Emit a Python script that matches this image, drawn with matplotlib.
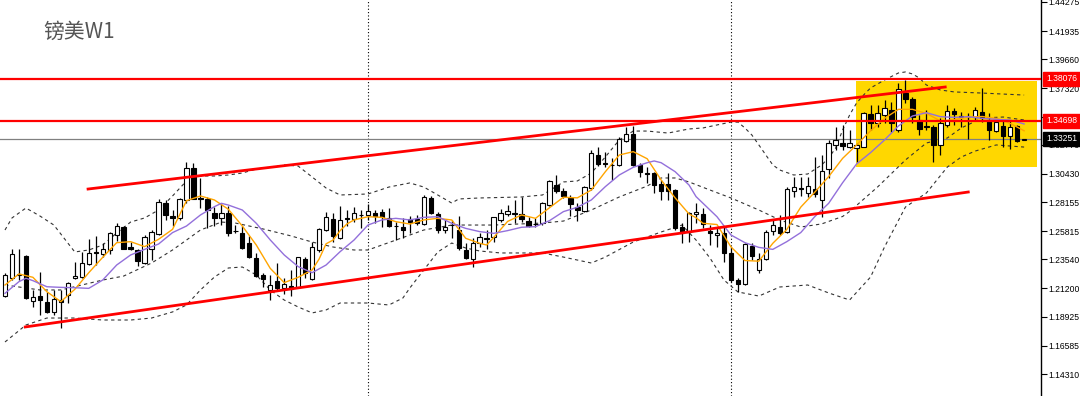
import numpy as np
import matplotlib.pyplot as plt
import matplotlib.transforms as mtransforms
from matplotlib.patches import Rectangle

# weekly GBPUSD candles
opens = [1.2062,1.2202,1.2229,1.2381,1.2019,1.2060,1.2014,1.1933,1.2027,1.2068,
1.2202,1.2215,1.2317,1.2416,1.2398,1.2430,1.2548,1.2618,1.2451,1.2430,
1.2322,1.2441,1.2559,1.2811,1.2706,1.2685,1.2833,1.3088,1.2846,1.2838,
1.2731,1.2685,1.2725,1.2586,1.2570,1.2484,1.2363,1.2229,1.2108,1.2183,
1.2124,1.2140,1.2134,1.2355,1.2194,1.2430,1.2591,1.2677,1.2524,1.2690,
1.2677,1.2714,1.2709,1.2725,1.2739,1.2685,1.2625,1.2618,1.2677,1.2677,
1.2639,1.2846,1.2717,1.2591,1.2633,1.2591,1.2430,1.2355,1.2484,1.2526,
1.2532,1.2672,1.2720,1.2727,1.2720,1.2666,1.2641,1.2645,1.2792,1.2953,
1.2908,1.2846,1.2779,1.2744,1.2927,1.3195,1.3130,1.3117,1.3115,1.3311,
1.3364,1.3115,1.3049,1.3047,1.2961,1.2961,1.2913,1.2613,1.2578,1.2720,
1.2720,1.2586,1.2551,1.2564,1.2403,1.2188,1.2156,1.2462,1.2269,1.2355,
1.2586,1.2618,1.2578,1.2908,1.2929,1.2886,1.2919,1.2833,1.3080,1.3276,
1.3294,1.3257,1.3249,1.3262,1.3523,1.3456,1.3517,1.3558,1.3397,1.3697,
1.3644,1.3477,1.3426,1.3418,1.3276,1.3437,1.3547,1.3506,1.3504,1.3498,
1.3544,1.3477,1.3391,1.3429,1.3348,1.3429,1.3318]
highs = [1.2242,1.2435,1.2441,1.2389,1.2108,1.2255,1.2094,1.2108,1.2108,1.2175,
1.2336,1.2416,1.2516,1.2543,1.2489,1.2578,1.2645,1.2623,1.2497,1.2435,
1.2551,1.2591,1.2838,1.2833,1.2752,1.2851,1.3141,1.3128,1.3007,1.2860,
1.2774,1.2806,1.2784,1.2631,1.2623,1.2543,1.2403,1.2242,1.2229,1.2322,
1.2202,1.2269,1.2376,1.2371,1.2497,1.2604,1.2736,1.2725,1.2784,1.2752,
1.2779,1.2752,1.2798,1.2752,1.2762,1.2765,1.2658,1.2685,1.2704,1.2712,
1.2873,1.2865,1.2739,1.2672,1.2672,1.2704,1.2484,1.2524,1.2564,1.2591,
1.2698,1.2758,1.2792,1.2833,1.2854,1.2698,1.2685,1.2819,1.2994,1.3034,
1.2927,1.2873,1.2806,1.2946,1.3235,1.3257,1.3222,1.3168,1.3337,1.3418,
1.3429,1.3128,1.3101,1.3061,1.2994,1.3047,1.2919,1.2645,1.2739,1.2806,
1.2766,1.2631,1.2604,1.2618,1.2457,1.2202,1.2489,1.2489,1.2403,1.2591,
1.2672,1.2712,1.2940,1.3021,1.3015,1.3021,1.3182,1.3195,1.3316,1.3424,
1.3437,1.3397,1.3294,1.3544,1.3598,1.3598,1.3638,1.3625,1.3778,1.3799,
1.3660,1.3517,1.3558,1.3437,1.3490,1.3598,1.3571,1.3544,1.3531,1.3584,
1.3732,1.3531,1.3490,1.3477,1.3477,1.3437,1.3328]
lows = [1.2054,1.2188,1.2188,1.2033,1.1974,1.1906,1.1920,1.1906,1.1800,1.2000,
1.2194,1.2202,1.2309,1.2309,1.2376,1.2398,1.2505,1.2435,1.2430,1.2301,
1.2317,1.2349,1.2551,1.2672,1.2623,1.2672,1.2806,1.2838,1.2766,1.2604,
1.2623,1.2631,1.2543,1.2564,1.2441,1.2363,1.2215,1.2129,1.2027,1.2108,
1.2075,1.2060,1.2121,1.2202,1.2188,1.2416,1.2586,1.2497,1.2516,1.2625,
1.2658,1.2604,1.2672,1.2645,1.2618,1.2613,1.2510,1.2524,1.2564,1.2631,
1.2631,1.2720,1.2570,1.2564,1.2524,1.2430,1.2355,1.2290,1.2457,1.2435,
1.2497,1.2658,1.2704,1.2645,1.2658,1.2613,1.2618,1.2631,1.2784,1.2886,
1.2846,1.2704,1.2666,1.2739,1.2913,1.3107,1.3101,1.2994,1.3107,1.3303,
1.3107,1.3021,1.2967,1.2886,1.2833,1.2833,1.2591,1.2484,1.2497,1.2645,
1.2604,1.2470,1.2457,1.2336,1.2175,1.2094,1.2148,1.2349,1.2242,1.2349,
1.2551,1.2551,1.2564,1.2860,1.2865,1.2860,1.2860,1.2698,1.3007,1.3236,
1.3236,1.3249,1.3141,1.3257,1.3397,1.3424,1.3450,1.3383,1.3383,1.3611,
1.3450,1.3356,1.3397,1.3141,1.3195,1.3424,1.3437,1.3424,1.3324,1.3477,
1.3464,1.3316,1.3383,1.3257,1.3241,1.3303,1.3315]
closes = [1.2229,1.2395,1.2237,1.2041,1.2051,1.2027,1.1928,1.2035,1.2011,1.2167,
1.2221,1.2322,1.2408,1.2403,1.2438,1.2564,1.2623,1.2438,1.2438,1.2344,
1.2532,1.2578,1.2814,1.2709,1.2685,1.2838,1.3088,1.2841,1.2841,1.2752,
1.2685,1.2731,1.2570,1.2580,1.2449,1.2376,1.2221,1.2194,1.2148,1.2126,
1.2153,1.2118,1.2371,1.2242,1.2457,1.2596,1.2698,1.2543,1.2672,1.2680,
1.2731,1.2710,1.2747,1.2704,1.2693,1.2623,1.2621,1.2591,1.2653,1.2645,
1.2854,1.2725,1.2591,1.2618,1.2629,1.2443,1.2363,1.2484,1.2537,1.2522,
1.2693,1.2731,1.2744,1.2723,1.2677,1.2623,1.2637,1.2811,1.2986,1.2905,
1.2865,1.2800,1.2752,1.2940,1.3214,1.3123,1.3126,1.3113,1.3321,1.3364,
1.3115,1.3061,1.3045,1.2953,1.2908,1.2908,1.2604,1.2564,1.2725,1.2739,
1.2639,1.2564,1.2570,1.2408,1.2188,1.2156,1.2478,1.2382,1.2355,1.2578,
1.2629,1.2564,1.2919,1.2935,1.2925,1.2945,1.2881,1.3069,1.3294,1.3316,
1.3268,1.3294,1.3276,1.3536,1.3456,1.3531,1.3571,1.3450,1.3724,1.3644,
1.3498,1.3402,1.3422,1.3276,1.3456,1.3552,1.3525,1.3502,1.3500,1.3558,
1.3490,1.3397,1.3464,1.3348,1.3424,1.3310,1.3325]

# fast MA (orange), read at bar positions
fast_idx = [0,2,4,6,8,10,12,14,16,18,20,22,24,26,28,30,32,34,36,38,40,42,44,45,46,47,48,49,
            50,52,54,56,58,60,62,64,66,68,69,70,72,74,76,78,80,82,84,86,88,90,92,94,96,98,99,
            100,102,104,106,108,110,112,114,116,118,120,122,124,126,128,130,132,134,136,138,140,142,144,146]
fast_val = [1.2148,1.2237,1.2210,1.2094,1.2014,1.2113,1.2247,1.2371,1.2489,1.2497,1.2457,1.2516,1.2596,1.2827,1.2865,
            1.2833,1.2758,1.2623,1.2470,1.2282,1.2167,1.2210,1.2269,
            1.2357,1.2480,1.2510,1.2585,1.2640,
            1.2672,1.2698,1.2693,1.2658,1.2639,1.2672,1.2685,1.2672,1.2524,
            1.2484,1.2470,1.2530,
            1.2660,1.2712,1.2685,1.2770,1.2855,1.2850,1.2913,1.3060,1.3195,1.3222,1.3165,1.2994,1.2850,1.2720,
            1.2690,
            1.2645,1.2635,1.2455,1.2345,1.2340,1.2484,1.2595,1.2775,1.2895,1.3021,1.3168,1.3276,1.3390,1.3490,
            1.3563,1.3563,1.3530,1.3470,1.3480,1.3500,1.3505,1.3490,1.3450,1.3390]

# slow MA (purple)
slow_idx = [0,2,3,4,6,8,10,12,14,16,18,20,22,24,26,28,30,31,
            32,34,36,38,40,42,44,46,48,50,52,54,56,58,60,62,64,66,68,70,72,74,76,78,80,82,84,86,88,90,92,
            93,94,96,98,99,100,102,104,106,108,110,112,114,116,118,120,122,124,126,128,130,132,134,136,138,140,142,144,146]
slow_val = [1.2081,1.2175,1.2202,1.2183,1.2134,1.2129,1.2126,1.2121,1.2188,1.2309,1.2390,1.2435,1.2478,1.2570,1.2623,1.2712,1.2779,1.2806,
            1.2792,1.2752,1.2645,1.2511,1.2390,1.2296,1.2247,1.2309,1.2416,1.2510,1.2631,1.2672,1.2685,1.2672,1.2693,1.2698,
            1.2645,1.2604,1.2578,1.2564,1.2586,1.2613,1.2618,1.2666,1.2739,1.2774,1.2833,1.2940,1.3034,1.3096,1.3133,
            1.3147,1.3133,1.3061,1.2953,1.2860,1.2806,1.2698,1.2551,1.2489,1.2451,1.2435,1.2497,1.2570,1.2698,1.2806,
            1.2972,1.3123,1.3214,1.3316,1.3429,1.3509,1.3536,1.3504,1.3498,1.3504,1.3490,1.3482,1.3477,1.3445]

# bollinger bands (dashed)
upper_idx = [0,1,3,5,7,9,10,12,14,16,18,20,22,24,26,28,30,32,34,36,38,40,42,44,46,48,52,55,58,60,
             62,64,65,68,74,77,80,82,84,86,88,90,92,95,98,100,102,104,105,106,107,108,109,110,111,113,115,117,118,119,
             120,121,122,123,124,126,128,129,130,131,132,134,136,140,146]
upper_val = [1.2591,1.2688,1.2768,1.2704,1.2631,1.2486,1.2414,1.2430,1.2470,1.2567,1.2655,1.2688,1.2752,1.2865,1.2986,
             1.3026,1.3026,1.3034,1.3050,1.3082,1.3098,1.3115,1.3106,1.3018,1.2929,1.2873,1.2881,1.2937,1.2970,1.2937,
             1.2873,1.2808,1.2841,1.2849,1.2857,1.2873,1.2978,1.2986,1.3050,1.3179,1.3316,1.3388,1.3388,1.3372,1.3405,
             1.3413,1.3437,1.3460,1.3460,1.3413,1.3356,1.3276,1.3195,1.3115,1.3074,1.3034,1.3042,1.3115,1.3171,1.3251,
             1.3396,1.3517,1.3614,1.3678,1.3735,1.3799,1.3856,1.3864,1.3848,1.3815,1.3759,1.3719,1.3703,1.3694,1.3678]
middle_idx = [0,5,8,11,14,17,21,24,26,28,31,33,37,41,44,47,50,52,56,60,64,70,77,80,84,88,92,94,96,98,
              101,104,108,111,114,117,120,121,125,129,132,135,137,140,143,146]
middle_val = [1.2148,1.2108,1.2108,1.2148,1.2188,1.2220,1.2325,1.2430,1.2510,1.2591,
              1.2655,1.2647,1.2599,1.2543,1.2494,1.2454,1.2430,1.2430,1.2510,1.2591,
              1.2631,1.2631,1.2647,1.2663,1.2752,1.2857,1.2945,1.3010,1.3010,1.2978,
              1.2913,1.2849,1.2752,1.2672,1.2615,1.2640,1.2700,1.2740,1.2937,1.3155,
              1.3292,1.3332,1.3413,1.3493,1.3501,1.3477]
lower_idx = [0,3,6,10,14,18,21,24,26,28,30,32,34,36,38,40,42,44,46,48,52,55,57,58,60,62,64,66,68,71,
             77,80,84,86,90,94,97,99,101,103,105,108,111,115,118,121,124,126,129,132,135,137,139,142,146]
lower_val = [1.1689,1.1826,1.1882,1.1882,1.1866,1.1866,1.1882,1.1931,1.1987,1.2108,
             1.2212,1.2285,1.2293,1.2229,1.2108,1.2027,1.1971,1.1923,1.1947,1.2003,
             1.2003,1.1987,1.2043,1.2124,1.2269,1.2414,1.2486,1.2446,1.2422,1.2406,
             1.2406,1.2373,1.2325,1.2373,1.2494,1.2575,1.2631,1.2510,1.2365,1.2188,
             1.2092,1.2059,1.2132,1.2148,1.2084,1.2027,1.2212,1.2454,1.2776,1.2889,
             1.3098,1.3179,1.3227,1.3276,1.3259]

# price axis and drawn objects
tick_values = [1.44275,1.41935,1.39660,1.37320,1.35045,1.32770,1.30430,
               1.28155,1.25815,1.23540,1.21200,1.18925,1.16585,1.14310]
level_top = 1.38076
level_mid = 1.34698
last_price = 1.33251
year_breaks = [52, 104]
chan_up_x = [11.9, 134.7]
chan_up_y = [1.2921, 1.3743]
chan_lo_x = [2.9, 138.0]
chan_lo_y = [1.1810, 1.2897]
zone_x = [121.9, 147.85]
zone_y = [1.3098, 1.3791]

axis_font = 'Liberation Sans'

fig = plt.figure(figsize=(10.8, 3.96), dpi=100)
ax = fig.add_axes([0, 0, 1041/1080, 1])
ax.set_xlim(-0.716, 148.42)
ax.set_ylim(1.12539, 1.44436)

ax.add_patch(Rectangle((zone_x[0], zone_y[0]), zone_x[1]-zone_x[0], zone_y[1]-zone_y[0],
                       facecolor='#FFD700', edgecolor='none', zorder=0.5))

for b in year_breaks:
    ax.axvline(b, color='black', lw=0.8, ls=(0, (1, 2)), zorder=1)

ax.axhline(level_top, color='#FF0000', lw=1.6, zorder=6)
ax.axhline(level_mid, color='#FF0000', lw=1.6, zorder=6)
ax.axhline(last_price, color='#808080', lw=0.9, zorder=2)

for xi, yi in [(upper_idx, upper_val), (middle_idx, middle_val), (lower_idx, lower_val)]:
    ax.plot(xi, yi, color='#333333', lw=0.8, ls=(0, (3, 3)), zorder=2)

x = np.arange(len(closes))
o = np.array(opens); h = np.array(highs); l = np.array(lows); c = np.array(closes)
up = c >= o
ax.vlines(x, l, h, color='black', lw=0.9, zorder=3)
bottom = np.minimum(o, c)
height = np.maximum(np.abs(c - o), 0.0003)
ax.bar(x, height, bottom=bottom, width=0.62, color=np.where(up, 'white', 'black'),
       edgecolor='black', linewidth=0.8, zorder=4)

ax.plot(fast_idx, fast_val, color='#FFA500', lw=1.0, zorder=5)
ax.plot(slow_idx, slow_val, color='#9370DB', lw=1.0, zorder=5)

ax.plot(chan_up_x, chan_up_y, color='#FF0000', lw=2.0, zorder=6)
ax.plot(chan_lo_x, chan_lo_y, color='#FF0000', lw=2.0, zorder=6)

ax.yaxis.tick_right()
ax.set_yticks(tick_values)
ax.set_yticklabels([f'{v:.5f}' for v in tick_values], family=axis_font, fontsize=6.2)
ax.tick_params(axis='y', direction='out', length=4, width=0.8, pad=1.5, colors='black')
ax.set_xticks([])
for s in ['left', 'top', 'bottom']:
    ax.spines[s].set_visible(False)
ax.spines['right'].set_linewidth(1.0)

trans = mtransforms.blended_transform_factory(ax.transAxes, ax.transData)
for val, bg in [(level_top, '#FF0000'), (level_mid, '#FF0000'), (last_price, 'black')]:
    ax.text(1.0 + 5/1041, val, f'{val:.5f}', transform=trans, ha='left', va='center',
            fontsize=6.2, family=axis_font, color='white', zorder=20, clip_on=False,
            bbox=dict(boxstyle='square,pad=0.3', facecolor=bg, edgecolor=bg))

fig.text(43/1080, 1 - 32/396, '镑美W1', fontsize=15, color='#555555',
         family=['Noto Sans CJK SC', 'DejaVu Sans'], ha='left', va='center')

fig.savefig('out.png', dpi=100)
